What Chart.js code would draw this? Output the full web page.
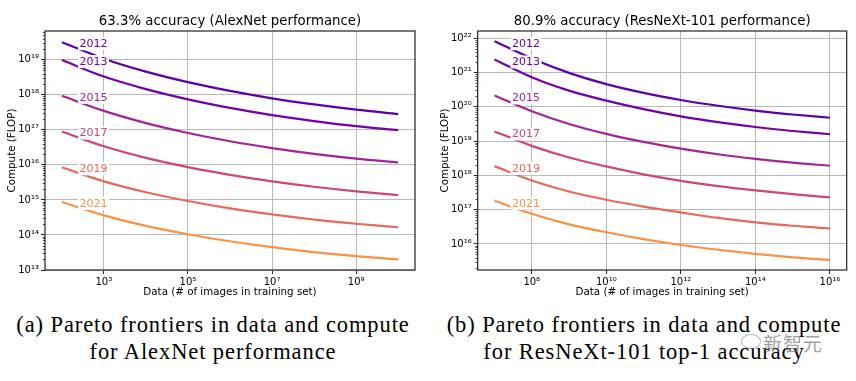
<!DOCTYPE html>
<html><head><meta charset="utf-8">
<script src="https://cdn.jsdelivr.net/npm/chart.js@4/dist/chart.umd.min.js"></script>
<style>
html,body{margin:0;padding:0;background:#fff;}
body{width:856px;height:381px;position:relative;overflow:hidden;}
canvas{position:absolute;top:0;}
.cap{position:absolute;top:312px;width:440px;text-align:center;font-family:"Liberation Serif",serif;font-size:22.5px;line-height:26.7px;letter-spacing:0.9px;color:#000;white-space:nowrap;}
.wm{position:absolute;left:763px;top:329px;font-family:"Noto Sans CJK SC",sans-serif;font-size:19px;color:rgba(120,120,120,0.7);letter-spacing:1px;}
.wmi{position:absolute;left:741px;top:334px;width:18px;height:13px;border:1.5px solid rgba(140,140,140,0.6);border-radius:50%;}
</style></head><body>
<canvas id="c1" width="428" height="300" style="left:0"></canvas>
<canvas id="c2" width="428" height="300" style="left:428px"></canvas>
<div class="cap" style="left:-7px">(a) Pareto frontiers in data and compute<br>for AlexNet performance</div>
<div class="cap" style="left:424px">(b) Pareto frontiers in data and compute<br>for ResNeXt-101 top-1 accuracy</div>
<div class="wmi"></div>
<div class="wm">新智元</div>
<script>
// ---------- data ----------
const years = ['2012', '2013', '2015', '2017', '2019', '2021'];
const colors = ['#5c01a6', '#7201a8', '#a32499', '#cc4778', '#e8685a', '#fb9142'];

// (a) AlexNet performance
const leftTitle = '63.3% accuracy (AlexNet performance)';
const leftX = [1e2, 1e3, 1e4, 1e5, 1e6, 1e7, 1e8, 1e9, 1e10];
const left2012 = [3.16e19, 1.07e19, 4.57e18, 2.29e18, 1.29e18, 7.94e17, 5.31e17, 3.76e17, 2.82e17];
const left2013 = [9.77e18, 3.31e18, 1.45e18, 7.41e17, 4.22e17, 2.63e17, 1.78e17, 1.27e17, 9.77e16];
const left2015 = [9.33e17, 3.47e17, 1.55e17, 8.13e16, 4.73e16, 3.02e16, 2.07e16, 1.51e16, 1.17e16];
const left2017 = [8.91e16, 3.39e16, 1.58e16, 8.61e15, 5.19e15, 3.39e15, 2.37e15, 1.76e15, 1.38e15];
const left2019 = [8.51e15, 3.39e15, 1.66e15, 9.33e14, 5.75e14, 3.85e14, 2.75e14, 2.09e14, 1.66e14];
const left2021 = [8.71e14, 3.63e14, 1.82e14, 1.05e14, 6.61e13, 4.47e13, 3.24e13, 2.48e13, 2.00e13];
const leftXTickExps = [3, 5, 7, 9];
const leftYTickExps = [13, 14, 15, 16, 17, 18, 19];

// (b) ResNeXt-101 performance
const rightTitle = '80.9% accuracy (ResNeXt-101 performance)';
const rightX = [1e7, 1e8, 1e9, 1e10, 1e11, 1e12, 1e13, 1e14, 1e15, 1e16];
const right2012 = [8.13e21, 2.57e21, 9.77e20, 4.57e20, 2.54e20, 1.58e20, 1.07e20, 7.76e19, 5.96e19, 4.79e19];
const right2013 = [2.40e21, 7.24e20, 2.95e20, 1.51e20, 8.51e19, 5.25e19, 3.55e19, 2.57e19, 1.97e19, 1.58e19];
const right2015 = [2.14e20, 7.41e19, 3.16e19, 1.62e19, 9.44e18, 6.03e18, 4.12e18, 3.02e18, 2.34e18, 1.91e18];
const right2017 = [1.91e19, 7.24e18, 3.31e18, 1.82e18, 1.07e18, 6.92e17, 4.84e17, 3.63e17, 2.82e17, 2.29e17];
const right2019 = [1.86e18, 7.08e17, 3.39e17, 1.95e17, 1.23e17, 8.32e16, 5.75e16, 4.27e16, 3.39e16, 2.82e16];
const right2021 = [1.82e17, 7.59e16, 3.72e16, 2.19e16, 1.38e16, 9.33e15, 6.76e15, 5.13e15, 4.07e15, 3.39e15];
const rightXTickExps = [8, 10, 12, 14, 16];
const rightYTickExps = [16, 17, 18, 19, 20, 21, 22];

const xLabel = 'Data (# of images in training set)';
const yLabel = 'Compute (FLOP)';

// ---------- helpers ----------
const SUP = {'0':'⁰','1':'¹','2':'²','3':'³','4':'⁴','5':'⁵','6':'⁶','7':'⁷','8':'⁸','9':'⁹','-':'⁻'};
function powLabel(v) {
  const e = Math.round(Math.log10(v));
  return '10' + String(e).split('').map(c => SUP[c]).join('');
}
const FONT = 'DejaVu Sans';

const framePlugin = {
  id: 'frame',
  afterDatasetsDraw(chart) {
    const {ctx, chartArea: a} = chart;
    ctx.save();
    ctx.strokeStyle = '#222';
    ctx.lineWidth = 1.2;
    ctx.strokeRect(a.left, a.top, a.right - a.left, a.bottom - a.top);
    // minor ticks on y axis
    const ys = chart.scales.y;
    ctx.lineWidth = 0.8;
    ctx.beginPath();
    const e0 = Math.floor(Math.log10(ys.min)), e1 = Math.ceil(Math.log10(ys.max));
    for (let e = e0; e <= e1; e++) {
      for (let m = 2; m <= 9; m++) {
        const v = m * Math.pow(10, e);
        if (v < ys.min || v > ys.max) continue;
        const p = Math.round(ys.getPixelForValue(v)) + 0.5;
        ctx.moveTo(a.left - 2.2, p);
        ctx.lineTo(a.left, p);
      }
    }
    ctx.stroke();
    // chart title
    const t = chart.options.plugins.frameTitle;
    ctx.fillStyle = '#000';
    ctx.font = '13.3px "' + FONT + '"';
    ctx.textAlign = 'center';
    ctx.textBaseline = 'middle';
    ctx.fillText(t.text, (a.left + a.right) / 2, 22);
    ctx.restore();
  }
};

const labelPlugin = {
  id: 'yearLabels',
  afterDatasetsDraw(chart) {
    const o = chart.options.plugins.yearLabels;
    const {ctx} = chart;
    const xs = chart.scales.x, ys = chart.scales.y;
    ctx.save();
    ctx.font = '11px "' + FONT + '"';
    ctx.textAlign = 'left';
    ctx.textBaseline = 'middle';
    chart.data.datasets.forEach(ds => {
      const x = xs.getPixelForValue(o.x);
      const y = ys.getPixelForValue(ds.data[0].y) + o.dy;
      const w = ctx.measureText(ds.label).width;
      ctx.fillStyle = '#fff';
      ctx.fillRect(x - 1.5, y - 6.5, w + 3, 13);
      ctx.fillStyle = ds.borderColor;
      ctx.fillText(ds.label, x, y + 0.5);
    });
    ctx.restore();
  }
};

function makeChart(id, xs, series, xTicks, yTicks, xr, yr, title, yW, padR, yTitlePad, labX, labDy) {
  new Chart(document.getElementById(id), {
    type: 'line',
    data: {
      datasets: series.map((s, i) => ({
        label: years[i],
        data: xs.map((x, j) => ({x: x, y: s[j]})),
        borderColor: colors[i],
        backgroundColor: colors[i],
        borderWidth: 2.2,
        pointRadius: 0,
        fill: false,
        cubicInterpolationMode: 'monotone'
      }))
    },
    options: {
      responsive: false,
      animation: false,
      events: [],
      layout: {padding: {top: 31, right: padR, left: 0, bottom: 0}},
      plugins: {
        legend: {display: false},
        tooltip: {enabled: false},
        title: {display: false},
        frameTitle: {text: title},
        yearLabels: {x: labX, dy: labDy}
      },
      scales: {
        x: {
          type: 'logarithmic',
          min: xr[0], max: xr[1],
          afterBuildTicks: s => { s.ticks = xTicks.map(e => ({value: Math.pow(10, e)})); },
          afterFit: s => { s.height = 30; },
          ticks: {autoSkip: false, maxRotation: 0, minRotation: 0, padding: 2, color: '#000',
                  font: {family: FONT, size: 10}, callback: v => powLabel(v)},
          grid: {color: '#b8b8b8', lineWidth: 1, tickLength: 4, tickColor: '#222', tickWidth: 1},
          border: {display: false},
          title: {display: true, text: xLabel, color: '#000', font: {family: FONT, size: 10.3},
                  padding: {top: 0, bottom: 1.5}}
        },
        y: {
          type: 'logarithmic',
          min: yr[0], max: yr[1],
          afterBuildTicks: s => { s.ticks = yTicks.map(e => ({value: Math.pow(10, e)})); },
          afterFit: s => { s.width = yW; },
          ticks: {autoSkip: false, padding: 2, color: '#000',
                  font: {family: FONT, size: 10}, callback: v => powLabel(v)},
          grid: {color: '#b8b8b8', lineWidth: 1, tickLength: 4, tickColor: '#222', tickWidth: 1},
          border: {display: false},
          title: {display: true, text: yLabel, color: '#000', font: {family: FONT, size: 10.3},
                  padding: {top: yTitlePad, bottom: 0}}
        }
      }
    },
    plugins: [framePlugin, labelPlugin]
  });
}

makeChart('c1', leftX, [left2012, left2013, left2015, left2017, left2019, left2021],
  leftXTickExps, leftYTickExps,
  [Math.pow(10, 1.6), Math.pow(10, 10.4)], [1e13, Math.pow(10, 19.82)],
  leftTitle, 45, 13, 5.8, Math.pow(10, 2.42), 1.5);

makeChart('c2', rightX, [right2012, right2013, right2015, right2017, right2019, right2021],
  rightXTickExps, rightYTickExps,
  [Math.pow(10, 6.55), Math.pow(10, 16.45)], [Math.pow(10, 15.24), Math.pow(10, 22.21)],
  rightTitle, 49.7, 9.3, 10.8, Math.pow(10, 7.47), 2.5);
</script>
</body></html>
